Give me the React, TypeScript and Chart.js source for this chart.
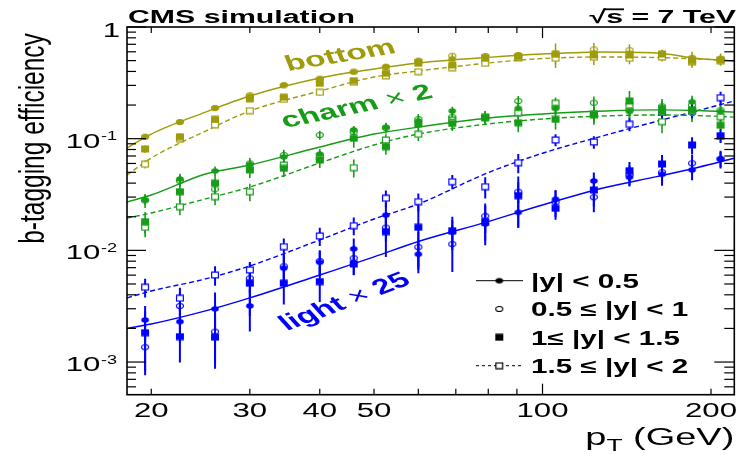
import React, { useEffect, useRef } from "react";
import { Chart, registerables } from "chart.js";

Chart.register(...registerables);

// ---------------- data ----------------
const ptBins = [19.5, 22.5, 26, 30, 34.5, 40, 46, 52.5, 60, 69, 79, 90.5, 105.5, 123.5, 143, 163.5, 185, 208];

// bottom (|y|<0.5, 0.5-1, 1-1.5, 1.5-2)
const bottomY0 = [0.104, 0.141, 0.188, 0.241, 0.303, 0.342, 0.395, 0.441, 0.496, 0.517, 0.542, 0.561, 0.573, 0.585, 0.581, 0.573, 0.525, 0.517];
const bottomY1 = [0.104, 0.141, 0.188, 0.245, 0.300, 0.345, 0.400, 0.440, 0.500, 0.553, 0.550, 0.560, 0.575, 0.630, 0.620, 0.575, 0.530, 0.520];
const bottomY2 = [0.0809, 0.104, 0.149, 0.227, 0.235, 0.313, 0.331, 0.385, 0.473, 0.457, 0.525, 0.542, 0.570, 0.561, 0.561, 0.573, 0.499, 0.507];
const bottomY3 = [0.059, 0.100, 0.133, 0.178, 0.225, 0.260, 0.320, 0.366, 0.398, 0.432, 0.473, 0.530, 0.525, 0.536, 0.525, 0.540, 0.489, 0.499];
const bottomE0 = [0.004, 0.005, 0.006, 0.008, 0.009, 0.011, 0.012, 0.014, 0.016, 0.018, 0.02, 0.02, 0.024, 0.026, 0.026, 0.028, 0.032, 0.034];
const bottomE1 = [0.005, 0.006, 0.008, 0.009, 0.012, 0.013, 0.015, 0.017, 0.02, 0.024, 0.026, 0.028, 0.05, 0.09, 0.08, 0.05, 0.07, 0.06];
const bottomE2 = [0.006, 0.008, 0.01, 0.012, 0.014, 0.016, 0.018, 0.02, 0.024, 0.026, 0.028, 0.03, 0.14, 0.04, 0.04, 0.04, 0.05, 0.05];
const bottomE3 = [0.005, 0.007, 0.009, 0.011, 0.014, 0.016, 0.018, 0.022, 0.025, 0.028, 0.03, 0.035, 0.06, 0.08, 0.06, 0.05, 0.06, 0.05];

// charm x 2
const charmY0 = [0.0283, 0.0436, 0.0514, 0.0588, 0.0686, 0.0729, 0.120, 0.1265, 0.144, 0.177, 0.154, 0.187, 0.187, 0.163, 0.175, 0.191, 0.214, 0.175];
const charmY1 = [0.028, 0.042, 0.0352, 0.060, 0.0715, 0.108, 0.115, 0.125, 0.150, 0.157, 0.155, 0.2175, 0.190, 0.210, 0.180, 0.195, 0.200, 0.180];
const charmY2 = [0.0181, 0.0335, 0.0399, 0.0525, 0.0543, 0.0645, 0.1008, 0.0848, 0.1355, 0.137, 0.154, 0.139, 0.149, 0.163, 0.2175, 0.175, 0.181, 0.132];
const charmY3 = [0.0161, 0.0246, 0.0303, 0.0335, 0.0581, 0.069, 0.055, 0.0974, 0.1095, 0.147, 0.157, 0.171, 0.2074, 0.165, 0.196, 0.142, 0.177, 0.157];
const charmE0 = [0.003, 0.005, 0.005, 0.006, 0.007, 0.008, 0.01, 0.012, 0.014, 0.016, 0.016, 0.018, 0.02, 0.022, 0.024, 0.026, 0.028, 0.03];
const charmE1 = [0.004, 0.005, 0.005, 0.007, 0.008, 0.01, 0.012, 0.014, 0.016, 0.018, 0.02, 0.024, 0.026, 0.028, 0.03, 0.032, 0.034, 0.036];
const charmE2 = [0.004, 0.007, 0.007, 0.008, 0.009, 0.01, 0.018, 0.013, 0.018, 0.02, 0.022, 0.025, 0.028, 0.03, 0.05, 0.035, 0.04, 0.04];
const charmE3 = [0.003, 0.004, 0.005, 0.006, 0.008, 0.009, 0.01, 0.012, 0.014, 0.018, 0.02, 0.022, 0.026, 0.028, 0.03, 0.03, 0.032, 0.034];

// light x 25
const lightY0 = [0.00238, 0.0023, 0.00299, 0.00318, 0.00692, 0.00782, 0.0103, 0.0207, 0.00923, 0.0146, 0.0172, 0.0219, 0.0287, 0.0418, 0.0451, 0.048, 0.0525, 0.0658];
const lightY1 = [0.00136, 0.00318, 0.00187, 0.00562, 0.0072, 0.00804, 0.0085, 0.016, 0.0107, 0.0114, 0.0203, 0.0335, 0.027, 0.0299, 0.0473, 0.050, 0.0602, 0.066];
const lightY2 = [0.00183, 0.00169, 0.00167, 0.00508, 0.00508, 0.00525, 0.00755, 0.0147, 0.0161, 0.015, 0.0181, 0.0309, 0.0238, 0.0347, 0.0517, 0.0594, 0.0878, 0.1064];
const lightY3 = [0.00468, 0.00373, 0.00602, 0.00668, 0.0108, 0.01345, 0.01664, 0.0293, 0.0273, 0.0412, 0.0372, 0.061, 0.0974, 0.0934, 0.1345, 0.1716, 0.177, 0.233];
const lightE0 = [0.0008, 0.0008, 0.0012, 0.0013, 0.002, 0.002, 0.0025, 0.006, 0.003, 0.004, 0.005, 0.006, 0.006, 0.008, 0.007, 0.01, 0.01, 0.01];
const lightE1 = [0.0006, 0.001, 0.0009, 0.0015, 0.002, 0.002, 0.0025, 0.004, 0.004, 0.005, 0.006, 0.007, 0.007, 0.008, 0.01, 0.012, 0.012, 0.012];
const lightE2 = [0.001, 0.0007, 0.0008, 0.0025, 0.0018, 0.0018, 0.0015, 0.006, 0.009, 0.005, 0.007, 0.015, 0.005, 0.01, 0.01, 0.012, 0.015, 0.015];
const lightE3 = [0.0009, 0.0009, 0.0012, 0.0012, 0.002, 0.0025, 0.003, 0.005, 0.005, 0.006, 0.008, 0.012, 0.012, 0.012, 0.018, 0.025, 0.025, 0.03];

// fitted curves
const fitPt = [18.1, 20, 25, 30, 40, 50, 60, 80, 100, 130, 160, 190, 220];
const bottomFitSolid = [0.0825, 0.110, 0.173, 0.241, 0.349, 0.421, 0.476, 0.535, 0.573, 0.598, 0.585, 0.522, 0.496];
const bottomFitDash = [0.0473, 0.0672, 0.117, 0.177, 0.267, 0.357, 0.404, 0.476, 0.522, 0.539, 0.533, 0.517, 0.496];
const charmFitSolid = [0.0271, 0.0313, 0.0483, 0.0581, 0.0842, 0.110, 0.127, 0.153, 0.1665, 0.177, 0.181, 0.179, 0.173];
const charmFitDash = [0.0195, 0.0216, 0.0289, 0.0369, 0.0606, 0.0878, 0.110, 0.1355, 0.150, 0.160, 0.163, 0.161, 0.156];
const lightFitSolid = [0.0020, 0.00219, 0.00287, 0.00375, 0.00602, 0.00873, 0.0120, 0.0181, 0.0255, 0.0367, 0.0457, 0.0555, 0.0668];
const lightFitDash = [0.00375, 0.00433, 0.00555, 0.00725, 0.0124, 0.0191, 0.026, 0.0497, 0.074, 0.108, 0.143, 0.179, 0.2175];

// axes
const xMin = 18.1;
const xMax = 220.1;
const yMin = 5.1e-4;
const yMax = 1;
const xTickLabels = [20, 30, 40, 50, 100, 200];
const xMinorTicks = [20, 30, 40, 50, 60, 70, 80, 90, 200];
const xMajorTicks = [100];
const yDecades = [1e-3, 1e-2, 1e-1, 1];
const yLabelExp = ["-3", "-2", "-1", ""];
const yMinorMult = [2, 3, 4, 5, 6, 7, 8, 9];
const legendLabels = ["|y| < 0.5", "0.5 \u2264 |y| < 1", "1\u2264 |y| < 1.5", "1.5 \u2264 |y| < 2"];

// ---------------- style ----------------
const W = 752;
const H = 458;
const FONT = '"Liberation Sans", Arial, Helvetica, sans-serif';
const OLIVE = "#9f9c0c";
const GREEN = "#179c17";
const BLUE = "#0000ff";

type Kind = "fc" | "oc" | "fs" | "os";
const kinds: Kind[] = ["fc", "oc", "fs", "os"];

function makeMarker(kind: Kind, color: string): HTMLCanvasElement {
  const c = document.createElement("canvas");
  c.width = 10;
  c.height = 8;
  const g = c.getContext("2d")!;
  g.fillStyle = color;
  g.strokeStyle = color;
  g.lineWidth = 1.2;
  if (kind === "fc") {
    g.beginPath();
    g.ellipse(5, 4, 3.8, 2.8, 0, 0, Math.PI * 2);
    g.fill();
  } else if (kind === "oc") {
    g.beginPath();
    g.ellipse(5, 4, 3.5, 2.5, 0, 0, Math.PI * 2);
    g.stroke();
  } else if (kind === "fs") {
    g.fillRect(1, 0.5, 8, 7);
  } else {
    g.fillStyle = "#fff";
    g.fillRect(1.6, 1.1, 6.8, 5.8);
    g.strokeRect(1.6, 1.1, 6.8, 5.8);
  }
  return c;
}

const flavors = [
  { color: OLIVE, vals: [bottomY0, bottomY1, bottomY2, bottomY3], errs: [bottomE0, bottomE1, bottomE2, bottomE3], fits: [bottomFitSolid, bottomFitDash], bar: 1.5 },
  { color: GREEN, vals: [charmY0, charmY1, charmY2, charmY3], errs: [charmE0, charmE1, charmE2, charmE3], fits: [charmFitSolid, charmFitDash], bar: 1.6 },
  { color: BLUE, vals: [lightY0, lightY1, lightY2, lightY3], errs: [lightE0, lightE1, lightE2, lightE3], fits: [lightFitSolid, lightFitDash], bar: 2 },
];

function drawText(
  ctx: CanvasRenderingContext2D,
  s: string,
  x: number,
  y: number,
  o: { size: number; bold?: boolean; sx?: number; align?: "left" | "right" | "center"; color?: string }
) {
  ctx.save();
  ctx.font = `${o.bold ? "bold " : ""}${o.size}px ${FONT}`;
  ctx.fillStyle = o.color ?? "#000";
  ctx.textBaseline = "alphabetic";
  ctx.textAlign = "left";
  const sx = o.sx ?? 1;
  const w = ctx.measureText(s).width * sx;
  let x0 = x;
  if (o.align === "right") x0 = x - w;
  else if (o.align === "center") x0 = x - w / 2;
  ctx.translate(x0, y);
  ctx.scale(sx, 1);
  ctx.fillText(s, 0, 0);
  ctx.restore();
  return w;
}

function textWidth(ctx: CanvasRenderingContext2D, s: string, size: number, bold: boolean, sx: number) {
  ctx.save();
  ctx.font = `${bold ? "bold " : ""}${size}px ${FONT}`;
  const w = ctx.measureText(s).width * sx;
  ctx.restore();
  return w;
}

function drawRotParts(
  ctx: CanvasRenderingContext2D,
  parts: { t: string; bold: boolean }[],
  x: number,
  y: number,
  size: number,
  sx: number,
  angDeg: number,
  color: string
) {
  ctx.save();
  ctx.translate(x, y);
  ctx.scale(sx, 1);
  ctx.rotate((-angDeg * Math.PI) / 180);
  ctx.fillStyle = color;
  ctx.textBaseline = "alphabetic";
  ctx.textAlign = "left";
  let cx = 0;
  for (const p of parts) {
    ctx.font = `${p.bold ? "bold " : ""}${size}px ${FONT}`;
    ctx.fillText(p.t, cx, 0);
    cx += ctx.measureText(p.t).width;
  }
  ctx.restore();
}

const decorPlugin = {
  id: "decor",
  beforeDraw(chart: any) {
    const ctx = chart.ctx as CanvasRenderingContext2D;
    ctx.save();
    ctx.fillStyle = "#fff";
    ctx.fillRect(0, 0, chart.width, chart.height);
    ctx.restore();
  },
  beforeDatasetsDraw(chart: any) {
    const ctx = chart.ctx as CanvasRenderingContext2D;
    const xs = chart.scales.x;
    const ys = chart.scales.y;
    const a = chart.chartArea;
    ctx.save();
    ctx.beginPath();
    ctx.rect(a.left, a.top, a.right - a.left, a.bottom - a.top);
    ctx.clip();
    for (const f of flavors) {
      ctx.strokeStyle = f.color;
      ctx.lineWidth = f.bar;
      f.vals.forEach((vals, k) => {
        const errs = f.errs[k];
        vals.forEach((v, i) => {
          const px = xs.getPixelForValue(ptBins[i]);
          const lo = Math.max(v - errs[i], yMin * 0.5);
          const hi = v + errs[i];
          ctx.beginPath();
          ctx.moveTo(px, ys.getPixelForValue(lo));
          ctx.lineTo(px, ys.getPixelForValue(hi));
          ctx.stroke();
        });
      });
    }
    ctx.restore();
  },
  afterDraw(chart: any) {
    const ctx = chart.ctx as CanvasRenderingContext2D;
    const xs = chart.scales.x;
    const ys = chart.scales.y;
    const a = chart.chartArea;
    const line = (x1: number, y1: number, x2: number, y2: number) => {
      ctx.beginPath();
      ctx.moveTo(x1, y1);
      ctx.lineTo(x2, y2);
      ctx.stroke();
    };
    ctx.save();
    // ticks
    ctx.strokeStyle = "#000";
    ctx.lineWidth = 1.2;
    for (const v of xMinorTicks) {
      const px = xs.getPixelForValue(v);
      line(px, a.bottom, px, a.bottom - 6);
      line(px, a.top, px, a.top + 6);
    }
    for (const v of xMajorTicks) {
      const px = xs.getPixelForValue(v);
      line(px, a.bottom, px, a.bottom - 11);
      line(px, a.top, px, a.top + 11);
    }
    for (const d of yDecades) {
      const py = ys.getPixelForValue(d);
      line(a.left, py, a.left + 19, py);
      line(a.right, py, a.right - 20, py);
    }
    for (const d of [1e-4, 1e-3, 1e-2, 1e-1]) {
      for (const m of yMinorMult) {
        const v = d * m;
        if (v < yMin || v > yMax) continue;
        const py = ys.getPixelForValue(v);
        line(a.left, py, a.left + 9, py);
        line(a.right, py, a.right - 10, py);
      }
    }
    // frame
    ctx.lineWidth = 1.6;
    ctx.strokeRect(a.left, a.top, a.right - a.left, a.bottom - a.top);

    // x tick labels
    for (const v of xTickLabels) {
      drawText(ctx, String(v), xs.getPixelForValue(v), 417.3, { size: 19.5, sx: 1.6, align: "center" });
    }
    // y tick labels
    yDecades.forEach((d, i) => {
      const py = ys.getPixelForValue(d);
      const exp = yLabelExp[i];
      if (!exp) {
        drawText(ctx, "1", 120, py + 9.7, { size: 19.5, sx: 1.6, align: "right" });
      } else {
        const we = textWidth(ctx, exp, 12.5, false, 1.45);
        drawText(ctx, exp, 117, py + 1.5, { size: 12.5, sx: 1.45, align: "right" });
        drawText(ctx, "10", 117 - we - 0.5, py + 9, { size: 19.5, sx: 1.6, align: "right" });
      }
    });

    // y title
    ctx.save();
    ctx.translate(44, 138.5);
    ctx.scale(1.45, 1);
    ctx.rotate(-Math.PI / 2);
    ctx.font = `24.5px ${FONT}`;
    ctx.fillStyle = "#000";
    ctx.textAlign = "center";
    ctx.textBaseline = "alphabetic";
    ctx.fillText("b-tagging efficiency", 0, 0);
    ctx.restore();

    // x title: p_T (GeV)
    {
      const sx = 1.65;
      const wp = textWidth(ctx, "p", 23, false, sx);
      const wt = textWidth(ctx, "T", 16, false, sx);
      const wg = textWidth(ctx, " (GeV)", 23, false, sx);
      const x0 = 734.3 - (wp + wt + wg);
      drawText(ctx, "p", x0, 445, { size: 23, sx });
      drawText(ctx, "T", x0 + wp, 451, { size: 16, sx });
      drawText(ctx, " (GeV)", x0 + wp + wt, 445, { size: 23, sx });
    }

    // header
    drawText(ctx, "CMS simulation", 128, 22.7, { size: 18.7, bold: true, sx: 1.62 });
    {
      const sx = 1.62;
      const wr = textWidth(ctx, "\u221A", 18.7, true, sx);
      const ws = textWidth(ctx, "s", 18.7, true, sx);
      const wrest = textWidth(ctx, "s = 7 TeV", 18.7, true, sx);
      const x0 = 736 - wr - wrest;
      drawText(ctx, "\u221A", x0, 22.7, { size: 18.7, bold: true, sx });
      drawText(ctx, "s = 7 TeV", x0 + wr, 22.7, { size: 18.7, bold: true, sx });
      ctx.lineWidth = 1.8;
      line(x0 + wr - 2, 9.3, x0 + wr + ws + 1, 9.3);
    }

    // flavour labels
    drawRotParts(ctx, [{ t: "bottom", bold: true }], 288, 71, 21.5, 1.55, 14.5, OLIVE);
    drawRotParts(ctx, [{ t: "charm ", bold: true }, { t: "\u00D7", bold: false }, { t: " 2", bold: true }], 285, 128, 21.5, 1.55, 17.6, GREEN);
    drawRotParts(ctx, [{ t: "light ", bold: true }, { t: "\u00D7", bold: false }, { t: " 25", bold: true }], 287, 331, 21.5, 1.55, 30.5, BLUE);

    // legend
    const rows = [280.7, 309, 337.3, 365.7];
    rows.forEach((ry, i) => {
      ctx.strokeStyle = "#000";
      ctx.lineWidth = 1;
      if (i === 0) line(476, ry, 523, ry);
      if (i === 3) {
        ctx.setLineDash([3, 3]);
        line(476, ry, 523, ry);
        ctx.setLineDash([]);
      }
      const m = makeMarker(kinds[i], "#000");
      ctx.drawImage(m, 499.3 - m.width / 2, ry - m.height / 2);
      drawText(ctx, legendLabels[i], 531, ry + 7.2, { size: 19.5, bold: true, sx: 1.52 });
    });
    ctx.restore();
  },
};

export default function App() {
  const ref = useRef<HTMLCanvasElement>(null);
  useEffect(() => {
    const canvas = ref.current!;
    const datasets: any[] = [];
    flavors.forEach((f) => {
      f.fits.forEach((fv, k) => {
        datasets.push({
          type: "line",
          data: fitPt.map((x, i) => ({ x, y: fv[i] })),
          borderColor: f.color,
          borderWidth: 1.4,
          borderDash: k === 1 ? [5, 3] : [],
          pointRadius: 0,
          cubicInterpolationMode: "monotone",
          fill: false,
          order: 10,
        });
      });
      f.vals.forEach((vals, k) => {
        datasets.push({
          type: "scatter",
          data: ptBins.map((x, i) => ({ x, y: vals[i] })),
          pointStyle: makeMarker(kinds[k], f.color),
          pointRadius: 4,
          showLine: false,
          order: 0,
        });
      });
    });
    const chart = new Chart(canvas, {
      type: "scatter",
      data: { datasets },
      options: {
        animation: false,
        responsive: false,
        devicePixelRatio: 1,
        events: [],
        layout: { padding: { left: 127, right: W - 734.3, top: 27, bottom: H - 394.7 } },
        plugins: { legend: { display: false }, tooltip: { enabled: false }, title: { display: false } },
        scales: {
          x: { type: "logarithmic", min: xMin, max: xMax, display: false },
          y: { type: "logarithmic", min: yMin, max: yMax, display: false },
        },
      },
      plugins: [decorPlugin],
    } as any);
    return () => chart.destroy();
  }, []);
  return (
    <canvas
      ref={ref}
      width={W}
      height={H}
      style={{ position: "absolute", left: 0, top: 0, width: W, height: H, display: "block" }}
    />
  );
}
